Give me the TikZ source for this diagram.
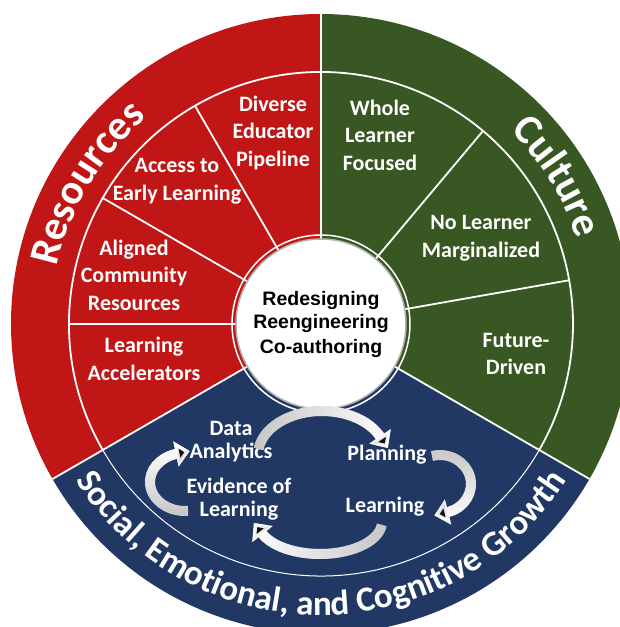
\documentclass[tikz,border=0pt]{standalone}
\usepackage{fontspec}
\newfontfamily\carlito{Carlito}
\newfontfamily\arialfont{Liberation Sans}
\usetikzlibrary{arrows.meta,decorations.text,fadings}

\definecolor{resred}{RGB}{192,22,22}
\definecolor{culgreen}{RGB}{56,87,35}
\definecolor{segblue}{RGB}{33,56,100}

\tikzfading[name=tailfade, left color=transparent!100, right color=transparent!0]

\newcommand{\headfont}{\carlito\bfseries\fontsize{42}{42}\selectfont}
\newcommand{\bandfont}{\carlito\bfseries\fontsize{35}{35}\selectfont}
\newcommand{\cyclearrow}[2]{%
  \draw[cycbase] #1;
  \draw[cycbase,cyctop=#2] #1;}

\tikzset{
  seglabel/.style={text=white, align=center, font=\carlito\bfseries\fontsize{22}{27.5}\selectfont},
  cyclabel/.style={text=white, align=center, font=\carlito\bfseries\fontsize{22}{23}\selectfont},
  hublabel/.style={text=black, align=center, font=\arialfont\bfseries\fontsize{19.5}{24}\selectfont},
  spoke/.style={white, line width=1.8pt},
  cycbase/.style={draw=gray!45, line width=10pt, line cap=butt, -{Triangle[width=25pt,length=14pt]}},
  cyctop/.style={draw=white, path fading=tailfade, fading angle=#1},
}

\begin{document}
\begin{tikzpicture}[x=1pt,y=1pt,line join=round]
    \useasboundingbox (-321,-303) rectangle (299,324);
    \clip (-321,-303) rectangle (299,324);
    % three sectors
    \fill[resred] (0,0) -- (90:310) arc[start angle=90,end angle=210,radius=310] -- cycle;
    \fill[culgreen] (0,0) -- (-30:310) arc[start angle=-30,end angle=90,radius=310] -- cycle;
    \fill[segblue] (0,0) -- (210:310) arc[start angle=210,end angle=330,radius=310] -- cycle;
    % ring and spokes
    \draw[spoke] (210:252) arc[start angle=210,end angle=-30,radius=252];
    \draw[white, line width=1pt] (210:252) arc[start angle=210,end angle=330,radius=252];
    \draw[spoke] (90:80) -- (90:310);
    \draw[spoke] (210:80) -- (210:310);
    \draw[spoke] (330:80) -- (330:310);
    \draw[spoke] (120:80) -- (120:252);
    \draw[spoke] (150:80) -- (150:252);
    \draw[spoke] (180:80) -- (180:252);
    \draw[spoke] (50:80) -- (50:252);
    \draw[spoke] (10:80) -- (10:252);
    % hub
    \draw[white, line width=1.5pt] (0,0) circle (89);
    \draw[fill=white, draw=gray!60, line width=1.5pt] (0,0) circle (85);
    \node[hublabel] (hub) at (0,0) {Redesigning\\Reengineering\\Co-authoring};
    % outer band titles
    \path[decorate,decoration={text along path,text color=white,text align=center,text={|\headfont|Resources}}]
        (189:270) arc[start angle=189,end angle=109,radius=270];
    \path[decorate,decoration={text along path,text color=white,text align=center,text={|\headfont|Culture}}]
        (72:270) arc[start angle=72,end angle=-8,radius=270];
    \path[decorate,decoration={text along path,text color=white,text align=center,text={|\bandfont|Social, Emotional, and Cognitive Growth}}]
        (200:291) arc[start angle=200,end angle=340,radius=291];
    % red segments
    \node[seglabel] (diverse) at (-48,191) {Diverse\\Educator\\Pipeline};
    \node[seglabel] (access) at (-144,143) {Access to\\Early Learning};
    \node[seglabel] (aligned) at (-187,49) {Aligned\\Community\\Resources};
    \node[seglabel] (accel) at (-177,-35) {Learning\\Accelerators};
    % green segments
    \node[seglabel] (whole) at (59,189) {Whole\\Learner\\Focused};
    \node[seglabel] (nolearner) at (160,86) {No Learner\\Marginalized};
    \node[seglabel] (future) at (195,-30) {Future-\\Driven};
    % learning cycle
    \node[cyclabel] (data) at (-90,-118) {Data\\Analytics};
    \node[cyclabel] (plan) at (66,-131) {Planning};
    \node[cyclabel] (learn) at (64,-183) {Learning};
    \node[cyclabel] (evidence) at (-82,-175) {Evidence of\\Learning};
    \coordinate (loopa) at (1,-131);
    \coordinate (loopb) at (119,-160);
    \coordinate (loopc) at (-1,-198);
    \coordinate (loopd) at (-136,-158);
    \cyclearrow{(loopa) ++(172:64 and 44) arc[start angle=172,end angle=25,x radius=64,y radius=44] -- ++(-56:14)}{0}
    \cyclearrow{(loopb) ++(105:31 and 29) arc[start angle=105,end angle=-75,x radius=31,y radius=29] -- ++(194:14)}{-90}
    \cyclearrow{(loopc) ++(-5:62 and 32) arc[start angle=-5,end angle=-158,x radius=62,y radius=32] -- ++(128:14)}{180}
    \cyclearrow{(loopd) ++(-85:35 and 29) arc[start angle=-85,end angle=-255,x radius=35,y radius=29] -- ++(12:14)}{90}
\end{tikzpicture}
\end{document}
